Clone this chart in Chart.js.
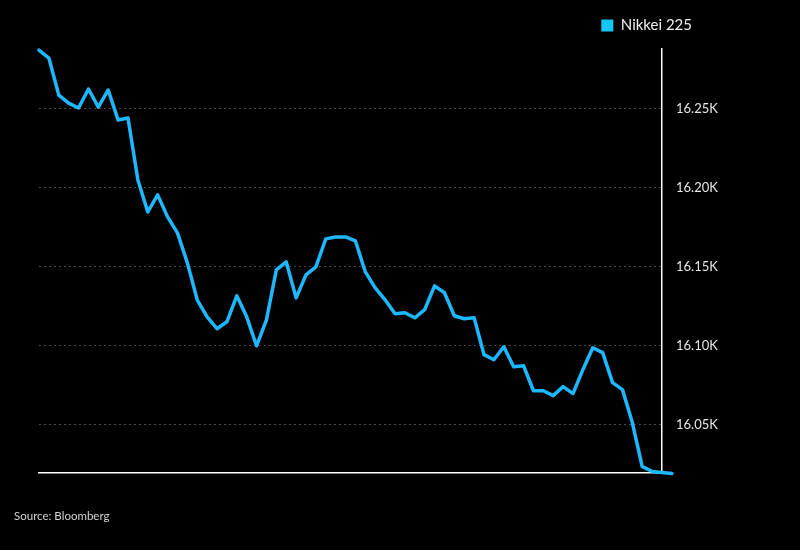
<!DOCTYPE html>
<html>
<head>
<meta charset="utf-8">
<script src="https://cdn.jsdelivr.net/npm/chart.js@4"></script>
<style>
    html, body { margin: 0; padding: 0; background: #000; }
    #wrap { position: relative; width: 800px; height: 550px; }
    #source {
        position: absolute; left: 14px; top: 509px;
        font: 11.5px Lato, sans-serif; color: #d2d2d2;
    }
</style>
</head>
<body>
<div id="wrap">
    <canvas id="chartNikkei" width="800" height="550"></canvas>
    <div id="source">Source: Bloomberg</div>
</div>
<script>
// --- Datos ---
const seriesName = 'Nikkei 225';
const closes = [
    16286.8, 16281.8, 16258.4, 16253.3, 16250.2, 16262.2, 16250.8, 16261.6, 16242.6, 16243.9,
    16204.7, 16184.5, 16195.3, 16181.4, 16171.3, 16152.3, 16129.0, 16118.2, 16110.7, 16115.1,
    16131.5, 16118.2, 16099.9, 16116.3, 16147.9, 16152.9, 16130.2, 16144.7, 16149.8, 16167.5,
    16168.7, 16168.7, 16166.2, 16146.6, 16136.5, 16129.0, 16120.1, 16120.8, 16117.6, 16122.7,
    16137.8, 16133.4, 16118.9, 16117.0, 16117.6, 16094.3, 16091.1, 16099.3, 16086.7, 16087.3,
    16071.5, 16071.5, 16068.4, 16074.1, 16069.7, 16084.8, 16098.7, 16095.6, 16076.6, 16072.2,
    16051.4, 16023.6, 16020.5, 16019.8, 16019.2
];
const steps = closes.map((_, i) => i);
const yTicks = [16050, 16100, 16150, 16200, 16250];

const lineColor = '#1db8ff';
const legendColor = '#14c6fa';

// legend: extra space below it, and pulled left of the axis labels
const legendTweak = {
    id: 'legendTweak',
    beforeInit(chart) {
        const fitLegend = chart.legend.fit;
        chart.legend.fit = function() {
            fitLegend.bind(chart.legend)();
            this.height += 6;
            if (this.lineWidths) this.lineWidths[0] += 24;
        };
    }
};

Chart.defaults.font.family = 'Lato, sans-serif';
Chart.defaults.color = '#e6e6e6';

new Chart(document.getElementById('chartNikkei'), {
    type: 'line',
    data: {
        datasets: [{
            label: seriesName,
            data: steps.map(i => ({ x: i, y: closes[i] })),
            borderColor: lineColor,
            backgroundColor: legendColor,
            borderWidth: 3.5,
            borderJoinStyle: 'round',
            borderCapStyle: 'round',
            pointRadius: 0,
            tension: 0,
            clip: false
        }]
    },
    options: {
        responsive: false,
        animation: false,
        layout: { padding: { left: 39, right: 74, top: 8, bottom: 57 } },
        plugins: {
            legend: {
                position: 'top',
                align: 'end',
                labels: {
                    boxWidth: 12,
                    boxHeight: 12,
                    color: '#f0f0f0',
                    font: { size: 15 },
                    generateLabels(chart) {
                        const items = Chart.defaults.plugins.legend.labels.generateLabels(chart);
                        items.forEach(it => { it.lineWidth = 0; it.fillStyle = legendColor; });
                        return items;
                    }
                }
            },
            tooltip: { enabled: false }
        },
        scales: {
            x: {
                type: 'linear',
                bounds: 'data',
                min: 0,
                // last session runs a step past the right axis
                afterDataLimits: axis => { axis.max = 63; },
                grid: { display: false },
                ticks: { display: false },
                border: { display: true, color: '#ffffff', width: 1.5 },
                afterFit: axis => { axis.height = 20; }
            },
            y: {
                position: 'right',
                min: 16019.5,
                max: 16287.5,
                afterBuildTicks: axis => { axis.ticks = yTicks.map(v => ({ value: v })); },
                grid: { color: '#4a4a4a', lineWidth: 1, drawTicks: false },
                border: { display: true, color: '#ffffff', width: 1.5, dash: [2, 3] },
                ticks: {
                    padding: 14,
                    color: '#e6e6e6',
                    font: { size: 13 },
                    callback: v => (v / 1000).toFixed(2) + 'K'
                },
                afterFit: axis => { axis.width = 64; }
            }
        }
    },
    plugins: [legendTweak]
});
</script>
</body>
</html>
